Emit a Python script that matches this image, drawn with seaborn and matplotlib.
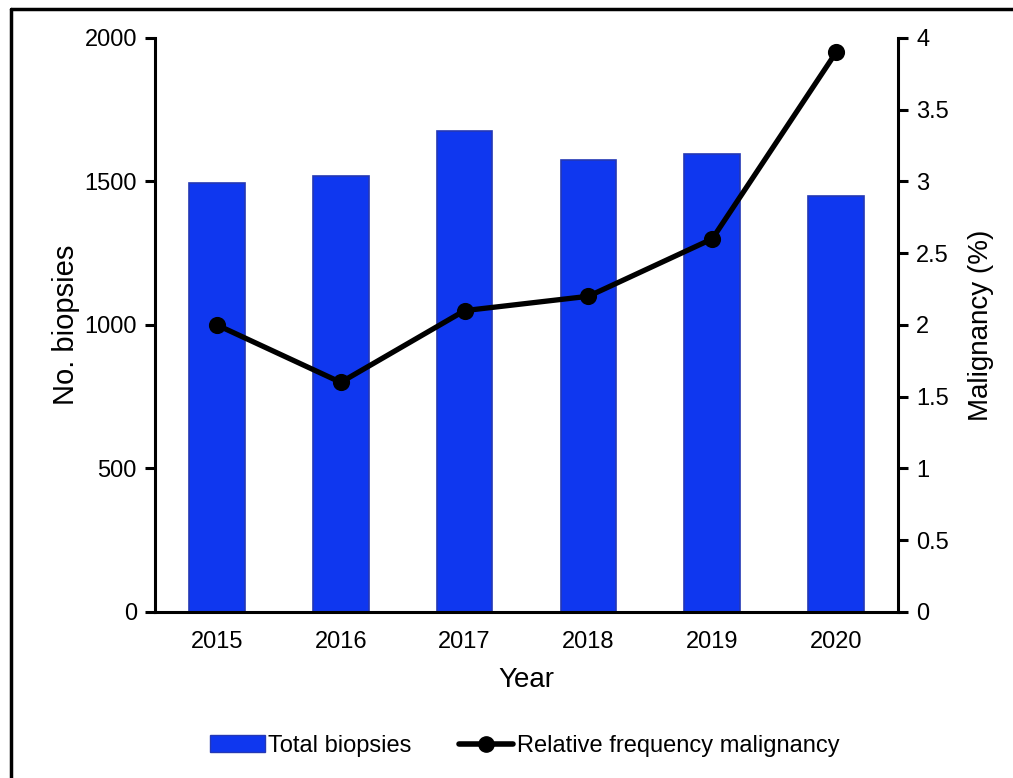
import matplotlib
matplotlib.use("Agg")
import matplotlib.pyplot as plt
from matplotlib.lines import Line2D
from matplotlib.patches import Patch
import seaborn as sns
import pandas as pd

years = ["2015", "2016", "2017", "2018", "2019", "2020"]
total_biopsies = [1495, 1518, 1675, 1575, 1595, 1450]
malignancy_pct = [2.0, 1.6, 2.1, 2.2, 2.6, 3.9]

df = pd.DataFrame({"Year": years, "Total": total_biopsies, "Malignancy": malignancy_pct})

sns.set_theme(style="white")
plt.rcParams["font.family"] = ["Liberation Sans", "DejaVu Sans"]
plt.rcParams["text.color"] = "black"
plt.rcParams["axes.labelcolor"] = "black"

bar_color = "#0F37EF"
bar_edge = "#2438B5"

fig = plt.figure(figsize=(10.13, 7.78), dpi=100)
ax = fig.add_axes([0.153, 0.2134, 0.7335, 0.7378])

sns.barplot(data=df, x="Year", y="Total", color=bar_color, width=0.45,
            edgecolor=bar_edge, linewidth=1.2, saturation=1, ax=ax)
ax.set_ylim(0, 2000)
ax.set_yticks([0, 500, 1000, 1500, 2000])
ax.set_xlim(-0.5, 5.5)
ax.set_xlabel("Year", fontsize=20, labelpad=10)
ax.set_ylabel("No. biopsies", fontsize=21, labelpad=3)

ax2 = ax.twinx()
sns.pointplot(data=df, x="Year", y="Malignancy", color="black", markers="o",
              markersize=9.5, linewidth=3.8, ax=ax2)
ax2.set_ylim(0, 4)
ax2.set_yticks([0, 0.5, 1, 1.5, 2, 2.5, 3, 3.5, 4])
ax2.set_yticklabels(["0", "0.5", "1", "1.5", "2", "2.5", "3", "3.5", "4"])
ax2.set_xlim(-0.5, 5.5)
ax2.set_ylabel("Malignancy (%)", fontsize=20, labelpad=14)

for a in (ax, ax2):
    a.spines["top"].set_visible(False)
    for s in a.spines.values():
        s.set_linewidth(2.2)
        s.set_color("black")
    a.tick_params(axis="y", direction="out", length=7, width=2.2, labelsize=17,
                  colors="black", pad=6)
    a.tick_params(axis="x", length=0, labelsize=17, pad=14, colors="black")
ax.spines["right"].set_visible(False)
ax2.spines["left"].set_visible(False)
ax2.spines["bottom"].set_visible(False)
ax.yaxis.set_ticks_position("left")
ax2.yaxis.set_ticks_position("right")

handles = [
    Patch(facecolor=bar_color, edgecolor=bar_edge, linewidth=1.0),
    Line2D([0], [0], color="black", linewidth=4, marker="o", markersize=11),
]
fig.legend(handles, ["Total biopsies", "Relative frequency malignancy"],
           loc="center", bbox_to_anchor=(0.518, 1 - 746 / 778), ncol=2,
           frameon=False, fontsize=17, handlelength=2.3, handletextpad=0.15,
           columnspacing=2.0)

# outer frame of the figure
fig.add_artist(Line2D([11 / 1013, 11 / 1013], [0, 1 - 9 / 778], color="black",
                      linewidth=2.5, transform=fig.transFigure))
fig.add_artist(Line2D([11 / 1013, 1], [1 - 9 / 778, 1 - 9 / 778], color="black",
                      linewidth=2.5, transform=fig.transFigure))

fig.savefig("out.png", dpi=100, facecolor="white")
